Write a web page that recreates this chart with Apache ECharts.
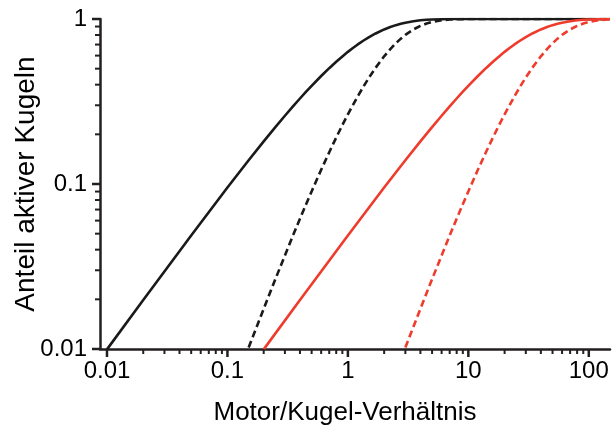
<!DOCTYPE html>
<html>
<head>
<meta charset="utf-8">
<script src="https://cdn.jsdelivr.net/npm/echarts@6/dist/echarts.min.js"></script>
<style>html,body{margin:0;padding:0;background:#fff;}#c{width:613px;height:427px;}</style>
</head>
<body>
<div id="c"></div>
<script>
// Tick labels
const xMajorTicks = [0.01, 0.1, 1, 10, 100];
const yMajorTicks = [0.01, 0.1, 1];
const xMinorTicks = [0.02,0.03,0.04,0.05,0.06,0.07,0.08,0.09,0.2,0.3,0.4,0.5,0.6,0.7,0.8,0.9,2,3,4,5,6,7,8,9,20,30,40,50,60,70,80,90];
const yMinorTicks = [0.02,0.03,0.04,0.05,0.06,0.07,0.08,0.09,0.2,0.3,0.4,0.5,0.6,0.7,0.8,0.9];

// Series values: [ratio, fraction]
const blackSolid = [[0.01,0.00995],[0.02,0.0198],[0.05,0.04877],[0.1,0.0952],[0.15,0.1393],[0.2,0.1813],[0.25,0.2212],[0.3,0.2592],[0.35,0.2953],[0.4,0.3297],[0.45,0.3624],[0.5,0.3935],[0.6,0.4512],[0.7,0.5034],[0.8,0.5507],[0.9,0.5934],[1,0.6321],[1.1,0.6671],[1.2,0.6988],[1.35,0.7408],[1.5,0.7769],[1.7,0.8173],[2,0.8647],[2.25,0.8946],[2.5,0.9179],[2.75,0.9361],[3,0.9502],[3.5,0.9698],[4,0.9817],[4.5,0.9889],[5,0.9933],[6,0.9975],[7,0.9991],[8,0.9997],[10,1],[150,1]];
const blackDashed = [[0.15,0.0102],[0.2,0.0175],[0.25,0.0265],[0.3,0.0369],[0.35,0.0487],[0.4,0.0616],[0.45,0.0754],[0.5,0.0902],[0.6,0.1219],[0.7,0.1558],[0.8,0.1912],[0.9,0.2275],[1,0.2642],[1.2,0.3374],[1.35,0.3908],[1.5,0.4422],[1.7,0.5068],[2,0.594],[2.25,0.6575],[2.5,0.7127],[2.75,0.7603],[3,0.8009],[3.5,0.8641],[4,0.9084],[4.5,0.9389],[5,0.9596],[6,0.9826],[7,0.9927],[8,0.997],[10,0.9995],[12,0.9999],[15,1],[150,1]];
const redSolid = [[0.2,0.00995],[0.4,0.0198],[1,0.04877],[2,0.0952],[3,0.1393],[4,0.1813],[5,0.2212],[6,0.2592],[7,0.2953],[8,0.3297],[9,0.3624],[10,0.3935],[12,0.4512],[14,0.5034],[16,0.5507],[18,0.5934],[20,0.6321],[22,0.6671],[24,0.6988],[27,0.7408],[30,0.7769],[34,0.8173],[40,0.8647],[45,0.8946],[50,0.9179],[55,0.9361],[60,0.9502],[70,0.9698],[80,0.9817],[90,0.9889],[100,0.9933],[120,0.9975],[140,0.9991],[150,0.9994]];
const redDashed = [[3,0.0102],[4,0.0175],[5,0.0265],[6,0.0369],[7,0.0487],[8,0.0616],[9,0.0754],[10,0.0902],[12,0.1219],[14,0.1558],[16,0.1912],[18,0.2275],[20,0.2642],[24,0.3374],[27,0.3908],[30,0.4422],[34,0.5068],[40,0.594],[45,0.6575],[50,0.7127],[55,0.7603],[60,0.8009],[70,0.8641],[80,0.9084],[90,0.9389],[100,0.9596],[120,0.9826],[140,0.9927],[150,0.9953]];

const FONT = "'Liberation Sans', Arial, Helvetica, sans-serif";
const AX = '#231f20';
const RED = '#ef3b2c';
const BLK = '#1a1a1a';
const xMin = 0.00875, xMax = 150, yMin = 0.01, yMax = 1;

const chart = echarts.init(document.getElementById('c'), null, {renderer: 'canvas'});
const lineSeries = (data, color, dashed) => ({
  type: 'line', data: data, smooth: false, showSymbol: false, symbol: 'none', clip: true,
  lineStyle: {color: color, width: 2.6, type: dashed ? [7, 4] : 'solid', cap: 'butt', join: 'round'}
});
chart.setOption({
  animation: false,
  backgroundColor: '#fff',
  grid: {left: 100, right: 3, top: 19, bottom: 78, containLabel: false, outerBoundsMode: 'none'},
  xAxis: {
    type: 'log', logBase: 10, min: xMin, max: xMax, position: 'bottom',
    name: 'Motor/Kugel-Verhältnis', nameLocation: 'middle', nameGap: 51,
    nameTextStyle: {fontFamily: FONT, fontSize: 26, color: '#000', padding: [0, 20, 0, 0]},
    axisLine: {show: true, lineStyle: {color: AX, width: 2.5}},
    axisTick: {show: false},
    axisLabel: {show: true, customValues: xMajorTicks, margin: 10, fontFamily: FONT, fontSize: 24, color: '#000',
      formatter: v => String(v)},
    splitLine: {show: false}
  },
  yAxis: {
    type: 'log', logBase: 10, min: yMin, max: yMax, position: 'left',
    name: 'Anteil aktiver Kugeln', nameLocation: 'middle', nameGap: 60, nameMoveOverlap: false,
    nameTextStyle: {fontFamily: FONT, fontSize: 28, color: '#000'},
    axisLine: {show: true, lineStyle: {color: AX, width: 2.5}},
    axisTick: {show: false},
    axisLabel: {show: true, customValues: yMajorTicks, margin: 13, fontFamily: FONT, fontSize: 24, color: '#000',
      formatter: v => String(v)},
    splitLine: {show: false}
  },
  series: [
    lineSeries(blackSolid, BLK, false),
    lineSeries(blackDashed, BLK, true),
    lineSeries(redSolid, RED, false),
    lineSeries(redDashed, RED, true)
  ]
});

// Tick marks placed through the library's own axis scales
const axisXPos = chart.convertToPixel({yAxisIndex: 0}, yMin);
const axisYPos = chart.convertToPixel({xAxisIndex: 0}, xMin);
const g = [];
const tick = (shape, w) => g.push({type: 'line', shape: shape, silent: true, z: 10,
  style: {stroke: AX, lineWidth: w}});
xMajorTicks.forEach(v => { const px = chart.convertToPixel({xAxisIndex: 0}, v); tick({x1: px, y1: axisXPos, x2: px, y2: axisXPos + 8}, 2.5); });
xMinorTicks.forEach(v => { const px = chart.convertToPixel({xAxisIndex: 0}, v); tick({x1: px, y1: axisXPos, x2: px, y2: axisXPos + 5}, 2); });
yMajorTicks.forEach(v => { const py = chart.convertToPixel({yAxisIndex: 0}, v); tick({x1: axisYPos, y1: py, x2: axisYPos - 8, y2: py}, 2.5); });
yMinorTicks.forEach(v => { const py = chart.convertToPixel({yAxisIndex: 0}, v); tick({x1: axisYPos, y1: py, x2: axisYPos - 5, y2: py}, 2); });
chart.setOption({graphic: g});
</script>
</body>
</html>
